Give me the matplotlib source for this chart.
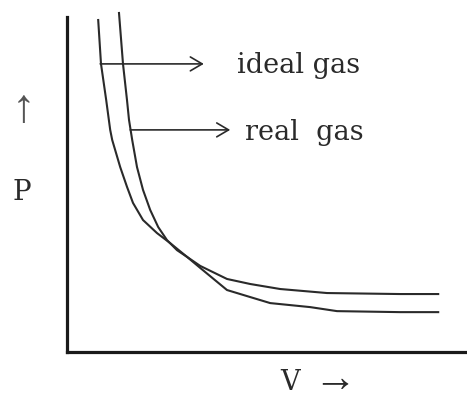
import matplotlib
matplotlib.use("Agg")
import matplotlib.pyplot as plt

# curves (V and P in arbitrary units, 0..10)
ideal_v = [0.78, 0.85, 0.98, 1.08, 1.13, 1.33, 1.50, 1.65, 1.90, 2.25, 2.58,
           3.00, 3.33, 4.00, 4.58, 5.33, 6.50, 8.33, 9.28]
ideal_p = [9.91, 8.60, 7.52, 6.63, 6.33, 5.52, 4.93, 4.45, 3.94, 3.55, 3.25,
           2.84, 2.57, 2.18, 2.03, 1.88, 1.76, 1.73, 1.73]

real_v = [1.30, 1.40, 1.50, 1.55, 1.63, 1.75, 1.90, 2.08, 2.28, 2.50, 2.75,
          3.00, 3.33, 4.00, 4.58, 5.08, 6.08, 6.75, 8.33, 9.28]
real_p = [10.12, 8.60, 7.52, 6.93, 6.33, 5.52, 4.84, 4.24, 3.73, 3.34, 3.04,
          2.84, 2.51, 1.85, 1.64, 1.46, 1.34, 1.22, 1.19, 1.19]

labels = ["ideal gas", "real  gas"]

plt.rcParams['font.family'] = ['DejaVu Serif']
ink = '#2a2a2a'
arrow_font = ['Liberation Serif', 'DejaVu Serif']

fig = plt.figure(figsize=(4.67, 4.03), dpi=100)
ax = fig.add_axes([67 / 467, 51 / 403, 400 / 467, 335 / 403])
ax.set_xlim(0, 10)
ax.set_ylim(0, 10)

ax.plot(ideal_v, ideal_p, color=ink, lw=1.5, clip_on=False,
        solid_joinstyle='round')
ax.plot(real_v, real_p, color=ink, lw=1.5, clip_on=False,
        solid_joinstyle='round')

# pointer arrows with labels
arrow = dict(arrowstyle='->,head_length=0.85,head_width=0.5', color=ink,
             lw=1.2, shrinkA=0, shrinkB=0)
ax.annotate('', xy=(3.42, 8.60), xytext=(0.83, 8.60), arrowprops=arrow)
ax.annotate('', xy=(4.08, 6.63), xytext=(1.58, 6.63), arrowprops=arrow)
ax.text(4.25, 8.33, labels[0], fontsize=19.5, color=ink, va='baseline')
ax.text(4.45, 6.33, labels[1], fontsize=19.5, color=ink, va='baseline')

# axis captions
ax.text(-1.1, 7.19, '↑', fontsize=34, color='#555555', ha='center',
        va='center', family=arrow_font)
ax.text(-1.13, 4.55, 'P', fontsize=20, color=ink, ha='center', va='baseline')
ax.text(5.33, -1.13, 'V', fontsize=19.5, color=ink, va='baseline')
ax.text(6.15, -0.85, '→', fontsize=31, color=ink, va='center',
        family=arrow_font)

for side in ['top', 'right']:
    ax.spines[side].set_visible(False)
for side in ['left', 'bottom']:
    ax.spines[side].set_linewidth(2.3)
    ax.spines[side].set_color('#1a1a1a')
ax.set_xticks([])
ax.set_yticks([])

fig.savefig('out.png', dpi=100)
